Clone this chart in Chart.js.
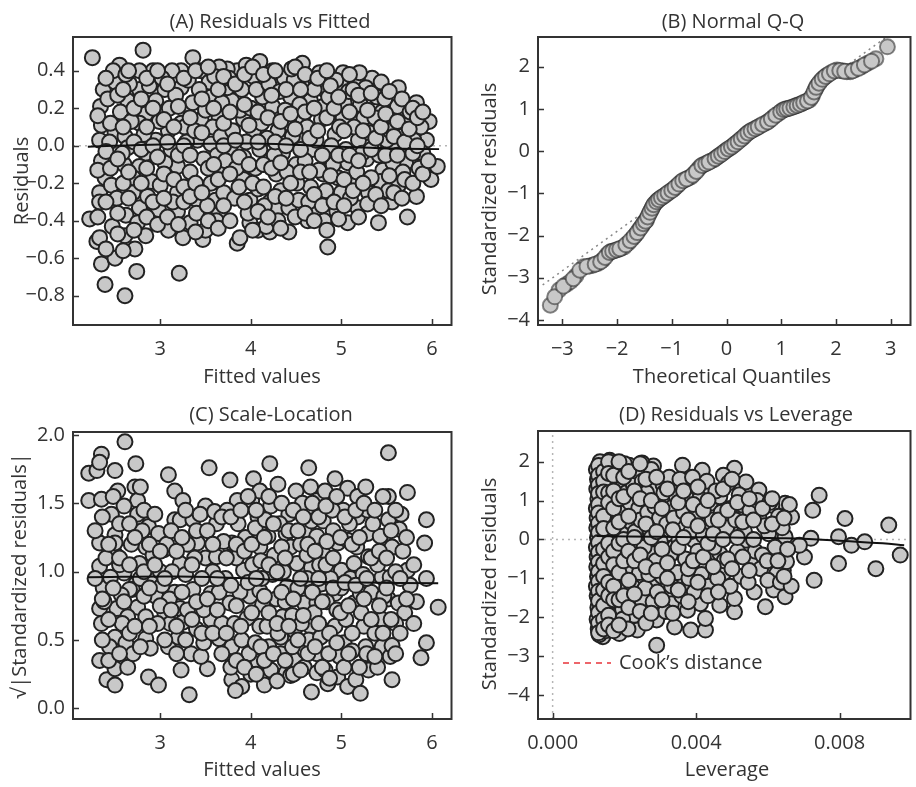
<!DOCTYPE html>
<html>
<head>
<meta charset="utf-8">
<script src="https://cdn.jsdelivr.net/npm/chart.js@4.4.1/dist/chart.umd.min.js"></script>
<style>
  html, body { margin: 0; padding: 0; background: #fff; }
  body { width: 916px; height: 787px; overflow: hidden; position: relative; }
  canvas { position: absolute; }
</style>
</head>
<body>
<canvas id="panelA" width="461" height="390" style="left:0;top:0"></canvas>
<canvas id="panelB" width="462" height="390" style="left:458px;top:0"></canvas>
<canvas id="panelC" width="461" height="397" style="left:0;top:390px"></canvas>
<canvas id="panelD" width="462" height="397" style="left:458px;top:390px"></canvas>
<script>
// (A) residuals vs fitted: [fitted, residual]
const residVsFitted = [
  [2.25,0.47],[2.81,0.51],[2.22,-0.39],[2.30,-0.51],[2.33,-0.49],[2.35,-0.63],[2.39,-0.74],[2.50,-0.60],[2.61,-0.80],[2.74,-0.67],
  [2.72,-0.55],[2.61,-0.48],[2.84,-0.48],[3.21,-0.68],[3.09,-0.45],[3.25,-0.49],[3.33,-0.41],[3.47,-0.50],[3.50,-0.45],[3.85,-0.52],
  [3.88,-0.49],[3.99,-0.41],[4.08,-0.45],[4.21,-0.46],[4.17,-0.43],[4.42,-0.46],[4.63,-0.40],[4.81,-0.40],[4.85,-0.54],[5.07,-0.41],
  [5.41,-0.41],[5.73,-0.38],[5.83,-0.27],[5.56,-0.30],[5.18,-0.33],[5.30,-0.25],[5.99,-0.18],[6.06,-0.11],[5.97,0.13],[5.83,0.23],
  [5.63,0.31],[5.94,0.03],[5.90,-0.04],[5.72,0.11],[5.34,0.36],[5.39,0.26],[5.16,0.36],[5.02,0.39],[5.00,0.32],[4.76,0.39],
  [4.81,0.30],[4.57,0.44],[4.57,0.32],[4.37,0.36],[4.44,0.26],[4.24,0.40],[4.10,0.45],[4.10,0.35],[4.03,0.37],[3.85,0.40],
  [3.74,0.41],[3.65,0.42],[3.36,0.47],[3.45,0.40],[3.23,0.40],[3.13,0.40],[2.92,0.40],[2.77,0.40],[2.55,0.43],[2.37,0.30],
  [2.34,0.21],[2.35,0.11],[2.33,0.03],[2.50,0.34],[2.50,0.07],[2.35,-0.08],[2.39,-0.17],[2.33,-0.25],[2.33,-0.30],[2.46,-0.21],
  [2.47,-0.43],[2.62,-0.37],[2.60,-0.10],[2.70,-0.25],[2.75,-0.41],[2.77,-0.33],[2.90,-0.19],[2.94,-0.34],[2.98,-0.34],[3.19,-0.25],
  [3.19,-0.35],[3.19,-0.11],[3.05,-0.09],[3.41,-0.29],[3.56,-0.20],[3.65,-0.36],[3.61,-0.29],[3.70,-0.15],[3.70,-0.25],[3.92,-0.18],
  [3.99,-0.29],[4.08,-0.23],[4.21,-0.30],[4.28,-0.34],[4.28,-0.15],[4.42,-0.33],[4.50,-0.10],[4.53,-0.29],[4.66,-0.22],[4.73,-0.33],
  [4.80,-0.15],[4.87,-0.27],[4.96,-0.17],[5.00,-0.25],[5.12,-0.20],[5.28,-0.07],[5.46,-0.13],[5.43,-0.19],[5.63,-0.21],[5.71,-0.09],
  [5.59,-0.01],[5.73,0.00],[5.59,0.14],[5.62,0.21],[5.45,0.18],[5.25,0.15],[5.19,0.03],[5.03,0.23],[5.02,0.15],[4.93,0.06],
  [4.80,0.21],[4.66,0.24],[4.57,0.15],[4.57,0.03],[4.42,0.12],[4.30,0.08],[4.24,0.21],[4.13,0.26],[4.03,0.08],[4.10,-0.02],
  [3.92,0.14],[3.88,0.19],[3.79,0.24],[3.74,0.31],[3.65,0.15],[3.56,0.26],[3.54,0.34],[3.45,0.14],[3.36,0.23],[3.23,0.31],
  [3.23,0.12],[3.09,0.08],[3.05,0.30],[2.95,0.24],[2.95,0.03],[2.84,0.17],[2.77,0.12],[2.77,0.30],[2.64,0.24],[2.61,0.05],
  [2.64,-0.01],[2.84,-0.04],[2.77,-0.11],[3.41,0.03],[3.56,0.01],[3.63,-0.05],[3.27,0.10],[3.77,-0.02],[3.92,-0.06],[4.21,-0.08],
  [4.35,-0.04],[4.68,-0.02],[4.85,-0.06],[5.07,-0.09],[5.36,-0.01],[5.50,0.03],[5.79,-0.04],[5.80,0.03],
  [2.42,0.25],[2.44,0.02],[2.56,0.18],[2.58,-0.04],[2.52,-0.28],[2.66,0.33],[2.68,0.13],[2.70,-0.17],[2.82,0.06],[2.86,-0.27],
  [2.88,0.32],[2.99,0.13],[3.00,-0.21],[3.02,0.36],[3.10,0.20],[3.12,-0.02],[3.14,-0.30],[3.17,0.27],[3.29,0.02],[3.31,0.35],
  [3.33,-0.14],[3.38,0.08],[3.40,-0.36],[3.43,0.30],[3.48,-0.07],[3.50,0.19],[3.52,-0.32],[3.58,0.10],[3.60,0.37],[3.67,0.05],
  [3.68,0.23],[3.72,-0.08],[3.76,0.36],[3.80,0.08],[3.82,-0.28],[3.84,-0.12],[3.90,0.30],[3.95,0.02],[3.97,-0.36],[4.00,0.20],
  [4.05,-0.12],[4.06,0.30],[4.12,0.12],[4.15,-0.32],[4.18,0.04],[4.20,0.33],[4.26,-0.05],[4.32,0.29],[4.33,-0.24],[4.38,0.19],
  [4.40,-0.14],[4.46,0.05],[4.48,0.35],[4.51,-0.20],[4.54,0.22],[4.60,-0.08],[4.62,0.10],[4.64,-0.30],[4.70,0.30],[4.72,0.03],
  [4.75,-0.13],[4.78,0.14],[4.83,-0.24],[4.86,0.26],[4.89,0.00],[4.91,-0.10],[4.94,0.35],[4.98,0.10],[5.05,-0.02],[5.08,0.29],
  [5.10,-0.28],[5.14,0.10],[5.17,-0.14],[5.21,0.22],[5.23,-0.04],[5.27,0.31],[5.31,0.07],[5.33,-0.17],[5.37,0.15],[5.42,-0.05],
  [5.48,0.25],[5.52,-0.24],[5.54,0.08],[5.57,-0.09],[5.66,0.05],[5.68,-0.14],[5.76,0.18],[5.86,-0.12],[5.88,0.10],[2.48,0.40],
  [2.62,0.38],[3.62,-0.40],[4.30,-0.40],[4.95,-0.35],[5.20,0.39],[4.45,0.41],[3.95,0.43],
  [2.31,0.16],[2.31,-0.13],[2.31,-0.38],[2.40,0.36],[2.40,-0.03],[2.40,-0.30],[2.40,-0.55],[2.45,0.12],[2.45,-0.12],[2.53,0.27],
  [2.53,-0.07],[2.53,-0.36],[2.53,-0.47],[2.59,0.30],[2.59,0.10],[2.59,-0.20],[2.59,-0.56],[2.65,0.40],[2.65,-0.14],[2.65,-0.28],
  [2.71,0.20],[2.71,0.02],[2.71,-0.45],[2.79,0.25],[2.79,-0.02],[2.79,-0.20],[2.85,0.36],[2.85,0.10],[2.85,-0.12],[2.85,-0.38],
  [2.92,0.20],[2.92,0.00],[2.92,-0.30],[2.97,0.40],[2.97,-0.06],[2.97,-0.42],[3.04,0.14],[3.04,-0.15],[3.04,-0.28],[3.08,0.33],
  [3.08,0.02],[3.08,-0.38],[3.15,0.10],[3.15,-0.18],[3.20,0.21],[3.20,-0.05],[3.20,-0.42],[3.26,0.36],[3.26,0.00],[3.26,-0.22],
  [3.26,-0.30],[3.33,0.15],[3.33,-0.05],[3.33,-0.27],[3.39,0.40],[3.39,-0.20],[3.39,-0.46],[3.46,0.25],[3.46,0.07],[3.46,-0.25],
  [3.53,0.42],[3.53,-0.12],[3.53,-0.40],[3.59,0.20],[3.59,-0.10],[3.64,0.30],[3.64,-0.18],[3.64,-0.44],[3.70,0.37],[3.70,0.12],
  [3.70,0.00],[3.70,-0.32],[3.77,0.18],[3.77,-0.15],[3.77,-0.40],[3.83,0.33],[3.83,0.03],[3.87,-0.06],[3.87,-0.22],[3.93,0.38],
  [3.93,0.22],[3.93,-0.30],[3.98,0.11],[3.98,-0.10],[4.02,0.42],[4.02,-0.20],[4.02,-0.45],[4.08,0.18],[4.08,0.02],[4.08,-0.35],
  [4.14,0.38],[4.14,-0.10],[4.14,-0.22],[4.19,0.15],[4.19,-0.38],[4.23,0.27],[4.23,-0.12],[4.27,0.40],[4.27,0.02],[4.27,-0.27],
  [4.33,0.13],[4.33,-0.09],[4.33,-0.44],[4.39,0.30],[4.39,0.00],[4.39,-0.28],[4.44,0.17],[4.44,-0.20],[4.49,0.42],[4.49,0.09],
  [4.49,-0.38],[4.55,0.30],[4.55,-0.02],[4.55,-0.14],[4.60,0.38],[4.60,0.18],[4.60,-0.36],[4.65,0.04],[4.65,-0.14],[4.70,0.20],
  [4.70,-0.26],[4.70,-0.40],[4.74,0.36],[4.74,0.08],[4.79,-0.05],[4.79,-0.32],[4.84,0.40],[4.84,0.15],[4.84,-0.45],[4.88,0.32],
  [4.88,-0.16],[4.92,0.20],[4.92,-0.30],[4.97,0.26],[4.97,-0.05],[4.97,-0.39],[5.03,0.08],[5.03,-0.18],[5.03,-0.32],[5.09,0.38],
  [5.09,0.18],[5.09,-0.05],[5.13,-0.24],[5.13,0.30],[5.19,0.27],[5.19,-0.08],[5.19,-0.38],[5.24,0.08],[5.24,-0.20],[5.29,0.19],
  [5.29,-0.31],[5.33,0.28],[5.33,-0.02],[5.38,0.04],[5.38,-0.26],[5.44,0.34],[5.44,0.10],[5.44,-0.32],[5.49,0.17],[5.49,-0.05],
  [5.53,0.29],[5.53,-0.16],[5.58,0.05],[5.58,-0.25],[5.62,0.13],[5.62,-0.05],[5.67,0.25],[5.67,-0.28],[5.70,0.02],[5.70,-0.18],
  [5.75,0.09],[5.79,0.20],[5.79,-0.20],[5.84,0.00],[5.84,0.15],[5.90,-0.15],[5.90,0.18],[5.96,-0.08]
];
const residSmooth = [[2.20,-0.005],[3.0,0.007],[4.0,0.012],[5.0,-0.005],[5.6,-0.015],[6.08,-0.018]];

// (B) normal Q-Q: [theoretical quantile, standardized residual]
const normalQQ = [
  [-3.22,-3.65],[-3.06,-3.29],[-2.92,-3.15],[-2.85,-3.09],[-2.75,-2.95],[-2.61,-2.74],[-2.50,-2.72],[-2.44,-2.70],[-2.35,-2.66],[-2.26,-2.58],
  [-2.18,-2.45],[-2.11,-2.38],[-2.05,-2.36],[-1.98,-2.33],[-1.92,-2.30],[-1.87,-2.27],[-1.80,-2.18],[-1.72,-2.07],[-1.66,-1.98],[-1.60,-1.87],
  [-1.55,-1.78],[-1.50,-1.68],[-1.46,-1.63],[-1.42,-1.50],[-1.38,-1.40],[-1.34,-1.30],[-1.31,-1.24],[-1.26,-1.17],[-1.21,-1.12],[-1.16,-1.08],
  [-1.10,-1.02],[-1.04,-0.96],[-0.97,-0.90],[-0.90,-0.82],[-0.83,-0.73],[-0.76,-0.68],[-0.70,-0.64],[-0.65,-0.61],[-0.58,-0.52],[-0.52,-0.43],
  [-0.48,-0.37],[-0.42,-0.32],[-0.35,-0.28],[-0.29,-0.24],[-0.24,-0.21],[-0.18,-0.15],[-0.12,-0.10],[-0.06,-0.04],[0.00,0.02],[0.06,0.07],
  [0.12,0.13],[0.18,0.19],[0.24,0.26],[0.30,0.32],[0.36,0.40],[0.42,0.46],[0.48,0.50],[0.55,0.55],[0.62,0.60],[0.71,0.66],
  [0.78,0.72],[0.86,0.81],[0.95,0.89],[1.02,0.96],[1.08,1.00],[1.13,1.01],[1.20,1.04],[1.26,1.07],[1.31,1.09],[1.38,1.13],
  [1.45,1.17],[1.52,1.21],[1.57,1.32],[1.62,1.46],[1.66,1.56],[1.72,1.66],[1.78,1.74],[1.84,1.80],[1.92,1.86],[2.02,1.92],
  [2.12,1.90],[2.20,1.88],[2.26,1.88],[2.35,1.93],[2.47,2.00],[2.58,2.08],[2.73,2.19],[2.94,2.47],
  [-3.14,-3.45],[-2.98,-3.20],[-2.80,-3.02],[-2.68,-2.82],[-2.55,-2.73],[-2.40,-2.68],[-2.30,-2.62],[-2.22,-2.52],[-2.14,-2.40],[-2.08,-2.37],
  [-2.01,-2.34],[-1.95,-2.31],[-1.84,-2.22],[-1.76,-2.12],[-1.69,-2.02],[-1.63,-1.93],[-1.57,-1.82],[-1.52,-1.72],[-1.48,-1.66],[-1.44,-1.56],
  [-1.40,-1.45],[-1.36,-1.35],[-1.33,-1.27],[-1.28,-1.20],[-1.24,-1.15],[-1.19,-1.10],[-1.13,-1.05],[-1.07,-0.99],[-1.00,-0.93],[-0.94,-0.86],
  [-0.87,-0.78],[-0.80,-0.70],[-0.73,-0.66],[-0.62,-0.57],[-0.55,-0.48],[-0.45,-0.34],[-0.38,-0.30],[-0.32,-0.26],[-0.21,-0.18],[-0.15,-0.12],
  [-0.09,-0.07],[-0.03,-0.01],[0.03,0.05],[0.09,0.10],[0.15,0.16],[0.21,0.22],[0.27,0.29],[0.33,0.36],[0.39,0.43],[0.45,0.48],
  [0.52,0.53],[0.58,0.57],[0.66,0.63],[0.75,0.69],[0.82,0.76],[0.90,0.85],[0.99,0.93],[1.05,0.98],[1.10,1.00],[1.16,1.02],
  [1.23,1.05],[1.29,1.08],[1.35,1.11],[1.41,1.15],[1.48,1.19],[1.55,1.27],[1.60,1.40],[1.64,1.51],[1.69,1.61],[1.75,1.70],
  [1.81,1.77],[1.88,1.83],[1.97,1.90],[2.07,1.91],[2.16,1.89],[2.30,1.90],[2.41,1.96],[2.52,2.04],[2.65,2.13]
];
const qqLine = [[-3.36,-3.17],[2.92,2.70]];

// (C) scale-location: [fitted, sqrt|standardized residual|]
const scaleLocation = [
  [2.21,1.72],[2.21,1.52],[2.30,1.74],[2.35,1.86],[2.33,1.80],[2.61,1.95],[2.50,1.74],[2.73,1.79],[2.53,1.59],[2.72,1.62],
  [2.75,1.52],[2.35,1.53],[2.46,1.42],[2.75,1.42],[2.87,1.33],[2.98,1.28],[2.33,1.21],[2.50,1.27],[2.50,1.13],[2.50,1.21],
  [2.33,1.04],[2.37,0.88],[2.33,0.73],[2.35,0.62],[2.52,0.73],[2.50,0.52],[2.44,0.45],[2.33,0.35],[2.41,0.21],[2.50,0.17],
  [2.50,0.29],[2.64,0.30],[2.62,0.48],[2.75,0.74],[2.73,0.91],[2.60,0.99],[2.84,0.51],[2.89,0.44],[2.87,0.23],[2.98,0.17],
  [3.09,0.45],[3.05,0.70],[3.11,0.62],[3.04,1.16],[3.09,1.71],[3.16,1.59],[3.25,1.52],[3.16,1.38],[3.22,1.38],[3.36,1.38],
  [3.22,1.06],[3.16,0.85],[3.22,0.73],[3.25,0.63],[3.20,0.52],[3.23,0.28],[3.34,0.40],[3.32,0.10],[3.36,0.87],[3.52,0.29],
  [3.45,0.38],[3.41,1.21],[3.50,1.10],[3.54,1.76],[3.50,1.48],[3.62,1.35],[3.62,1.11],[3.56,0.84],[3.65,0.85],[3.56,0.65],
  [3.65,0.51],[3.77,1.67],[3.79,1.21],[3.77,0.77],[3.79,0.45],[3.79,0.21],[3.85,1.52],[3.86,1.35],[3.92,1.01],[3.90,0.50],
  [3.90,0.16],[3.83,0.13],[3.99,0.82],[4.03,1.68],[4.01,1.52],[4.10,1.59],[4.08,1.40],[4.10,1.18],[4.10,0.86],[4.10,0.60],
  [4.08,0.34],[4.15,0.17],[4.21,1.79],[4.30,1.64],[4.22,1.48],[4.19,1.26],[4.24,0.98],[4.13,0.76],[4.22,0.28],[4.33,0.40],
  [4.33,0.52],[4.35,0.67],[4.39,1.28],[4.42,1.42],[4.40,0.89],[4.39,0.26],[4.50,1.59],[4.51,1.06],[4.48,0.57],[4.50,0.35],
  [4.57,1.50],[4.59,1.30],[4.59,0.77],[4.60,0.42],[4.59,0.30],[4.64,1.76],[4.66,1.62],[4.67,1.37],[4.67,1.03],[4.69,0.87],
  [4.66,0.60],[4.67,0.12],[4.73,1.52],[4.73,1.26],[4.73,0.77],[4.73,0.40],[4.73,0.26],[4.80,1.37],[4.82,1.59],[4.80,1.13],
  [4.78,0.91],[4.80,0.57],[4.85,0.18],[4.93,1.68],[4.91,1.30],[4.96,1.21],[4.93,0.84],[4.93,0.60],[4.98,0.38],[4.96,0.23],
  [5.02,1.45],[5.00,1.01],[5.03,0.48],[5.07,1.61],[5.07,1.23],[5.07,0.16],[5.03,0.30],[5.14,1.06],[5.14,0.77],[5.18,1.55],
  [5.18,1.40],[5.16,0.21],[5.21,0.11],[5.21,0.84],[5.25,0.60],[5.27,1.62],[5.29,1.45],[5.29,1.28],[5.30,1.11],[5.27,0.45],
  [5.30,0.28],[5.43,1.26],[5.45,0.96],[5.45,0.65],[5.45,0.45],[5.52,1.87],[5.52,1.55],[5.52,1.38],[5.56,1.18],[5.54,0.96],
  [5.52,0.80],[5.54,0.38],[5.56,0.21],[5.56,0.46],[5.63,0.77],[5.66,1.42],[5.64,1.31],[5.70,0.70],[5.73,1.58],[5.73,1.01],
  [5.83,0.78],[5.88,0.37],[5.94,1.38],[5.92,1.21],[5.94,0.95],[5.94,0.48],[6.07,0.74],[2.69,0.87],[2.77,1.06],[2.84,1.18],
  [2.91,0.96],[2.95,0.82],[2.82,0.82],[2.66,0.87],[2.64,0.67],[2.84,0.67],
  [2.40,1.10],[2.45,0.96],[2.55,1.05],[2.58,0.62],[2.68,1.20],[2.70,0.40],[2.80,1.30],[2.92,1.12],[2.97,0.62],[3.00,1.00],
  [3.02,0.90],[3.07,1.20],[3.10,0.80],[3.13,1.00],[3.28,0.98],[3.30,1.20],[3.30,0.72],[3.38,1.10],[3.40,0.58],[3.44,1.42],
  [3.48,0.72],[3.58,1.00],[3.60,1.44],[3.68,0.62],[3.70,1.22],[3.72,0.95],[3.74,1.45],[3.82,0.62],[3.84,1.10],[3.88,0.85],
  [3.94,1.25],[3.96,0.66],[3.98,0.40],[4.02,1.05],[4.05,1.32],[4.05,0.48],[4.12,0.95],[4.16,1.38],[4.18,0.60],[4.20,0.45],
  [4.26,1.12],[4.28,0.80],[4.30,0.55],[4.32,1.35],[4.36,1.00],[4.38,0.78],[4.44,1.18],[4.46,0.45],[4.46,0.68],[4.52,0.88],
  [4.55,1.20],[4.56,0.62],[4.62,0.95],[4.62,1.12],[4.64,0.50],[4.70,0.70],[4.76,1.05],[4.77,0.52],[4.84,1.22],[4.84,0.78],
  [4.86,0.40],[4.88,0.95],[4.90,1.45],[4.95,0.72],[5.00,0.88],[5.05,0.65],[5.09,1.35],[5.10,0.95],[5.12,0.42],[5.17,1.18],
  [5.22,0.70],[5.24,0.98],[5.33,0.85],[5.35,1.35],[5.37,0.55],[5.40,1.05],[5.47,0.82],[5.60,1.00],[5.60,0.62],[5.68,1.15],
  [5.76,0.90],[2.38,0.78],[2.57,0.83],[3.18,0.40],[3.48,0.48],[4.00,0.25],[4.44,0.24],[4.82,0.28],[5.40,0.30],
  [2.28,1.30],[2.28,0.95],[2.36,1.40],[2.36,0.50],[2.36,0.80],[2.43,1.20],[2.43,0.65],[2.43,0.35],[2.48,1.55],[2.48,0.88],
  [2.55,1.35],[2.55,0.40],[2.55,1.10],[2.60,0.78],[2.60,1.48],[2.66,1.05],[2.66,0.55],[2.66,1.35],[2.72,1.25],[2.72,0.60],
  [2.78,0.95],[2.78,1.62],[2.78,0.45],[2.82,1.00],[2.82,1.45],[2.88,0.88],[2.88,0.60],[2.88,1.20],[2.94,1.05],[2.94,1.42],
  [3.00,0.75],[3.00,1.15],[3.05,0.50],[3.05,0.95],[3.12,1.30],[3.12,0.72],[3.18,1.15],[3.18,0.60],[3.24,0.85],[3.24,1.25],
  [3.28,0.50],[3.28,1.45],[3.35,0.65],[3.35,1.05],[3.40,1.30],[3.40,0.78],[3.46,0.95],[3.46,0.55],[3.52,1.30],[3.52,0.80],
  [3.58,1.20],[3.58,0.55],[3.63,0.72],[3.63,0.95],[3.68,1.40],[3.68,0.40],[3.73,1.10],[3.73,0.55],[3.78,0.90],[3.78,1.40],
  [3.78,0.30],[3.84,0.75],[3.84,1.20],[3.84,0.35],[3.89,1.45],[3.89,0.60],[3.93,1.15],[3.93,0.30],[3.97,0.92],[3.97,1.55],
  [4.01,0.70],[4.01,1.20],[4.06,0.95],[4.06,0.25],[4.06,1.45],[4.11,1.08],[4.11,0.45],[4.15,0.82],[4.15,1.25],[4.15,0.35],
  [4.20,1.55],[4.20,0.70],[4.20,1.05],[4.25,0.40],[4.25,1.35],[4.29,0.62],[4.29,1.00],[4.29,0.20],[4.34,1.18],[4.34,0.85],
  [4.34,1.50],[4.38,0.35],[4.38,1.10],[4.42,0.60],[4.42,1.30],[4.47,0.80],[4.47,1.45],[4.47,0.25],[4.52,0.50],[4.52,1.30],
  [4.55,0.95],[4.55,0.28],[4.58,1.40],[4.58,0.68],[4.63,0.40],[4.63,1.20],[4.68,0.85],[4.68,1.50],[4.71,0.45],[4.71,1.15],
  [4.75,0.62],[4.75,1.40],[4.75,0.95],[4.79,0.30],[4.79,0.78],[4.83,1.05],[4.83,1.48],[4.87,0.55],[4.87,0.22],[4.91,0.88],
  [4.91,1.10],[4.95,1.55],[4.95,0.48],[4.99,0.70],[4.99,1.25],[5.04,0.92],[5.04,1.40],[5.08,0.40],[5.08,0.75],[5.12,1.20],
  [5.12,0.55],[5.16,1.45],[5.16,0.90],[5.20,0.30],[5.20,1.25],[5.25,0.80],[5.25,1.50],[5.28,0.95],[5.28,0.40],[5.33,1.10],
  [5.33,0.65],[5.37,1.45],[5.37,0.38],[5.42,0.75],[5.42,1.15],[5.46,1.55],[5.46,0.55],[5.50,0.88],[5.50,1.10],[5.55,0.65],
  [5.55,1.30],[5.60,1.45],[5.60,0.40],[5.65,0.95],[5.65,0.55],[5.72,1.25],[5.72,0.80],[5.80,1.05],[5.80,0.62]
];
const scaleSmooth = [[2.20,0.96],[3.2,0.965],[4.0,0.95],[4.5,0.93],[5.2,0.92],[6.07,0.915]];

// (D) residuals vs leverage: [leverage, standardized residual]
const residVsLeverage = [
  [0.00743,1.14],[0.00725,0.75],[0.00815,0.54],[0.00937,0.37],[0.00797,0.07],[0.00833,-0.15],[0.00870,-0.06],[0.00797,-0.62],[0.00901,-0.75],[0.00969,-0.40],
  [0.00729,-1.05],[0.00702,-0.45],[0.00720,0.03],[0.00688,-0.15],[0.00666,0.58],[0.00648,0.93],[0.00611,0.88],[0.00575,1.27],[0.00539,1.48],[0.00507,1.83],
  [0.00476,1.65],[0.00417,1.78],[0.00362,1.91],[0.00281,1.89],[0.00249,1.97],[0.00213,1.91],[0.00159,2.04],[0.00140,1.95],[0.00290,-2.72],[0.00290,-2.07],
  [0.00340,-2.25],[0.00385,-2.33],[0.00426,-2.33],[0.00426,-2.03],[0.00412,-1.65],[0.00466,-1.69],[0.00507,-1.86],[0.00507,-1.52],[0.00562,-1.35],[0.00593,-1.73],
  [0.00616,-1.30],[0.00648,-1.47],[0.00643,-0.79],[0.00652,-0.57],[0.00236,-2.33],[0.00227,-1.95],[0.00249,-1.56],[0.00236,-1.09],[0.00177,-1.65],[0.00154,-2.25],
  [0.00140,-2.50],[0.00186,-2.42],[0.00136,-1.99],[0.00159,-1.48],[0.00140,-1.13],[0.00172,-0.83],[0.00208,-1.47],[0.00331,-1.65],[0.00367,-1.13],[0.00376,-1.82],
  [0.00313,-0.70],[0.00276,-0.36],[0.00249,-0.62],[0.00322,0.15],[0.00285,0.41],[0.00335,0.84],[0.00376,0.80],[0.00394,1.27],[0.00439,1.27],[0.00439,0.93],
  [0.00426,0.37],[0.00426,-0.62],[0.00466,-0.36],[0.00476,-0.87],[0.00503,0.24],[0.00494,0.80],[0.00466,1.10],[0.00530,0.88],[0.00539,-0.02],[0.00557,-0.62],
  [0.00575,0.58],[0.00602,0.15],[0.00625,-0.87],[0.00611,-0.45],[0.00648,0.07],[0.00294,1.10],[0.00285,1.35],[0.00308,1.40],[0.00358,1.35],[0.00249,0.97],
  [0.00222,1.10],[0.00208,1.57],[0.00177,1.74],[0.00168,1.05],[0.00195,0.33],[0.00140,0.41],[0.00140,1.27],[0.00140,0.84],[0.00140,-0.10],[0.00140,-0.53],
  [0.00145,-1.56],[0.00249,0.15],[0.00213,-0.15],[0.00236,-0.10],[0.00340,-0.19],[0.00394,-0.02],[0.00367,0.41],[0.00276,-1.13],
  [0.00122,1.80],[0.00125,1.55],[0.00123,1.30],[0.00126,1.05],[0.00122,0.80],[0.00124,0.55],[0.00123,0.30],[0.00125,0.05],[0.00122,-0.20],[0.00124,-0.45],
  [0.00123,-0.70],[0.00125,-0.95],[0.00122,-1.20],[0.00124,-1.45],[0.00126,-1.75],[0.00124,-2.05],[0.00127,-2.30],[0.00130,-2.45],[0.00132,2.00],[0.00135,1.70],
  [0.00133,1.45],[0.00136,1.15],[0.00134,0.95],[0.00133,0.65],[0.00136,0.15],[0.00134,-0.30],[0.00135,-0.80],[0.00137,-1.35],[0.00134,-1.80],[0.00136,-2.20],
  [0.00148,1.85],[0.00150,1.60],[0.00152,1.35],[0.00148,1.10],[0.00150,0.70],[0.00153,0.50],[0.00150,0.25],[0.00148,0.00],[0.00152,-0.30],[0.00150,-0.70],
  [0.00152,-0.95],[0.00150,-1.25],[0.00150,-1.80],[0.00152,-2.05],[0.00148,-2.35],[0.00162,1.90],[0.00165,1.40],[0.00163,0.90],[0.00160,0.60],[0.00164,0.10],
  [0.00162,-0.20],[0.00165,-0.55],[0.00163,-1.05],[0.00165,-1.30],[0.00168,-1.95],[0.00170,-2.15],[0.00175,1.55],[0.00178,1.20],[0.00180,0.70],[0.00176,0.40],
  [0.00180,-0.05],[0.00178,-0.40],[0.00182,-1.10],[0.00180,-1.40],[0.00190,1.85],[0.00188,1.30],[0.00192,0.90],[0.00190,0.55],[0.00192,0.15],[0.00188,-0.25],
  [0.00192,-0.65],[0.00190,-1.25],[0.00195,-1.80],[0.00195,-2.05],[0.00200,1.95],[0.00205,1.20],[0.00203,0.70],[0.00202,-0.40],[0.00205,-0.95],[0.00210,-2.30],
  [0.00215,0.95],[0.00218,0.45],[0.00220,-0.70],[0.00222,-1.20],[0.00225,1.40],[0.00230,0.20],[0.00232,-0.40],[0.00235,1.75],[0.00240,0.80],[0.00242,-0.85],
  [0.00245,0.50],[0.00250,1.50],[0.00255,-0.20],[0.00258,-1.25],[0.00262,1.20],[0.00265,0.70],[0.00268,-0.90],[0.00272,0.20],[0.00275,1.80],[0.00280,-1.60],
  [0.00285,0.85],[0.00288,-0.55],[0.00292,-1.35],[0.00298,0.55],[0.00300,-0.05],[0.00305,-0.95],[0.00310,1.20],[0.00315,-1.85],[0.00318,0.40],[0.00325,1.60],
  [0.00328,-0.40],[0.00332,-1.20],[0.00338,0.55],[0.00345,1.10],[0.00348,-0.85],[0.00352,0.00],[0.00355,1.55],[0.00360,-1.45],[0.00365,0.70],[0.00370,-0.50],
  [0.00375,1.05],[0.00380,-1.00],[0.00385,0.20],[0.00390,1.60],[0.00395,-1.35],[0.00400,0.65],[0.00405,-0.30],[0.00410,1.05],[0.00415,-0.90],[0.00420,0.10],
  [0.00430,1.50],[0.00435,-1.20],[0.00445,0.50],[0.00450,-0.20],[0.00455,1.25],[0.00460,-1.00],[0.00470,0.70],[0.00478,-0.55],[0.00485,0.30],[0.00490,1.45],
  [0.00495,-1.20],[0.00510,0.50],[0.00515,-0.30],[0.00520,1.15],[0.00525,-0.95],[0.00535,0.20],[0.00545,-1.10],[0.00550,0.75],[0.00565,-0.30],[0.00570,1.00],
  [0.00580,-0.75],[0.00590,0.35],[0.00600,-1.05],[0.00605,0.95],[0.00620,-0.20],[0.00630,0.60],[0.00635,-1.10],[0.00640,0.30],[0.00655,-0.25],[0.00660,0.90],
  [0.00665,-1.20],
  [0.00128,1.90],[0.00128,1.65],[0.00128,1.40],[0.00128,1.18],[0.00128,0.90],[0.00128,0.68],[0.00128,0.42],[0.00128,0.18],[0.00128,-0.08],[0.00128,-0.33],
  [0.00128,-0.58],[0.00128,-0.83],[0.00128,-1.08],[0.00128,-1.33],[0.00128,-1.58],[0.00128,-1.88],[0.00128,-2.15],[0.00128,-2.40],[0.00142,1.75],[0.00142,1.50],
  [0.00142,1.22],[0.00142,0.60],[0.00142,0.28],[0.00142,-0.25],[0.00142,-0.62],[0.00142,-0.95],[0.00142,-1.30],[0.00142,-1.70],[0.00142,-2.05],[0.00142,-2.30],
  [0.00156,2.00],[0.00156,1.70],[0.00156,1.20],[0.00156,0.95],[0.00156,-0.10],[0.00156,-0.45],[0.00156,-1.10],[0.00156,-1.45],[0.00156,-1.95],[0.00156,-2.20],
  [0.00170,1.65],[0.00170,1.25],[0.00170,0.80],[0.00170,0.30],[0.00170,-0.30],[0.00170,-0.65],[0.00170,-1.20],[0.00170,-1.55],[0.00170,-2.35],[0.00185,2.00],
  [0.00185,1.05],[0.00185,0.45],[0.00185,-0.10],[0.00185,-0.85],[0.00185,-1.55],[0.00185,-2.20],[0.00198,1.60],[0.00198,1.10],[0.00198,0.00],[0.00198,-0.55],
  [0.00198,-1.45],[0.00212,1.75],[0.00212,0.60],[0.00212,-0.30],[0.00212,-1.05],[0.00212,-1.75],[0.00228,1.25],[0.00228,0.05],[0.00228,-0.55],[0.00228,-1.40],
  [0.00244,1.95],[0.00244,1.05],[0.00244,-0.40],[0.00244,-1.85],[0.00260,0.40],[0.00260,1.55],[0.00260,-0.70],[0.00260,-2.15],[0.00275,1.00],[0.00275,0.05],
  [0.00275,-1.90],[0.00290,1.60],[0.00290,0.20],[0.00290,-0.80],[0.00305,0.80],[0.00305,-0.25],[0.00305,-1.55],[0.00320,1.30],[0.00320,-0.60],[0.00320,-1.00],
  [0.00335,0.25],[0.00335,-1.90],[0.00350,0.95],[0.00350,-0.20],[0.00350,-1.30],[0.00365,1.25],[0.00365,0.05],[0.00378,0.50],[0.00378,-0.75],[0.00378,-1.60],
  [0.00392,0.90],[0.00392,-0.55],[0.00405,1.35],[0.00405,0.35],[0.00405,-1.10],[0.00420,0.75],[0.00420,-0.45],[0.00433,1.00],[0.00433,-0.10],[0.00433,-1.45],
  [0.00448,0.15],[0.00448,-0.70],[0.00462,0.50],[0.00462,-1.35],[0.00475,1.30],[0.00475,0.00],[0.00488,-0.50],[0.00488,0.75],[0.00500,1.55],[0.00500,-0.75],
  [0.00515,0.95],[0.00515,0.05],[0.00530,0.45],[0.00530,-0.45],[0.00548,1.05],[0.00548,-0.80],[0.00560,0.00],[0.00560,0.50],[0.00585,0.80],[0.00585,-0.40],
  [0.00598,-0.55],[0.00612,0.40],[0.00612,1.05],[0.00628,-0.55],[0.00645,0.55],[0.00645,-0.95]
];
const leverageSmooth = [[0.00122,0.09],[0.003,0.07],[0.005,0.05],[0.0065,0.03],[0.008,-0.03],[0.0092,-0.10],[0.0098,-0.15]];

// tick values
const fittedTicks = [3, 4, 5, 6];
const residTicks = [-0.8, -0.6, -0.4, -0.2, 0, 0.2, 0.4];
const quantileTicks = [-3, -2, -1, 0, 1, 2, 3];
const stdResidTicks = [-4, -3, -2, -1, 0, 1, 2];
const sqrtTicks = [0, 0.5, 1, 1.5, 2];
const leverageTicks = [0, 0.004, 0.008];

const FONT = "'Open Sans', sans-serif";
const INK = "#333";
const MINUS = "\u2212";
const fmt = d => v => Number(v).toFixed(d).replace("-", MINUS);
const xy = pairs => pairs.map(([x, y]) => ({ x, y }));

// box, inward tick marks, panel/axis titles and optional Cook's legend
const panelDeco = {
  id: "panelDeco",
  afterDraw(chart, args, o) {
    const { ctx, chartArea: a, scales } = chart;
    ctx.save();
    ctx.strokeStyle = INK;
    ctx.lineWidth = 2;
    ctx.strokeRect(a.left, a.top, a.right - a.left, a.bottom - a.top);
    ctx.lineWidth = 1.5;
    ctx.beginPath();
    scales.x.ticks.forEach(t => {
      const px = Math.round(scales.x.getPixelForValue(t.value)) + 0.5;
      ctx.moveTo(px, a.bottom); ctx.lineTo(px, a.bottom - 6);
    });
    scales.y.ticks.forEach(t => {
      const py = Math.round(scales.y.getPixelForValue(t.value)) + 0.5;
      ctx.moveTo(a.left, py); ctx.lineTo(a.left + 6, py);
    });
    ctx.stroke();

    ctx.fillStyle = INK;
    ctx.font = "20px " + FONT;
    ctx.textAlign = "center";
    ctx.textBaseline = "middle";
    ctx.fillText(o.title, o.titlePos[0], o.titlePos[1]);
    ctx.fillText(o.xTitle, o.xTitlePos[0], o.xTitlePos[1]);
    ctx.save();
    ctx.translate(o.yTitlePos[0], o.yTitlePos[1]);
    ctx.rotate(-Math.PI / 2);
    ctx.fillText(o.yTitle, 0, 0);
    ctx.restore();

    if (o.cooks) {
      const [lx, ly] = o.cooks;
      ctx.strokeStyle = "#e8333a";
      ctx.lineWidth = 1.5;
      ctx.setLineDash([6, 5]);
      ctx.beginPath();
      ctx.moveTo(lx, ly); ctx.lineTo(lx + 48, ly);
      ctx.stroke();
      ctx.setLineDash([]);
      ctx.textAlign = "left";
      ctx.fillText("Cook\u2019s distance", lx + 56, ly);
    }
    ctx.restore();
  }
};

function axis(min, max, ticks, format, fit, pad) {
  return {
    type: "linear",
    min, max,
    grid: { display: false, drawTicks: false },
    border: { display: false },
    afterBuildTicks: s => { s.ticks = ticks.map(v => ({ value: v })); },
    afterFit: fit,
    ticks: {
      callback: format,
      color: INK,
      autoSkip: false,
      maxRotation: 0,
      padding: pad,
      font: { family: FONT, size: 20 }
    }
  };
}

function pointSet(pairs, border) {
  return {
    data: xy(pairs),
    pointRadius: 7.5,
    pointBackgroundColor: "#c8c8c8",
    pointBorderColor: border,
    pointBorderWidth: 2,
    order: 1
  };
}

function lineSet(pairs, opts) {
  return Object.assign({
    data: xy(pairs),
    showLine: true,
    pointRadius: 0,
    borderColor: "#111",
    borderWidth: 2,
    tension: 0.4,
    order: 0
  }, opts);
}

const dotted = { borderColor: "#b5b5b5", borderWidth: 1.5, borderDash: [2, 4], tension: 0, order: 2 };

function panel(id, area, xs, ys, datasets, deco) {
  const canvas = document.getElementById(id);
  const W = canvas.width, H = canvas.height;
  return new Chart(canvas, {
    type: "scatter",
    data: { datasets },
    options: {
      responsive: false,
      animation: false,
      devicePixelRatio: 1,
      events: [],
      layout: { padding: { top: area.top, left: 0, bottom: 0, right: W - area.right } },
      plugins: { legend: { display: false }, tooltip: { enabled: false }, panelDeco: deco },
      scales: {
        x: axis(xs.min, xs.max, xs.ticks, xs.format, s => { s.height = H - area.bottom; }, 12),
        y: axis(ys.min, ys.max, ys.ticks, ys.format, s => { s.width = area.left; }, 8)
      }
    },
    plugins: [panelDeco]
  });
}

// (A)
panel("panelA", { left: 73, top: 37, right: 459, bottom: 325 },
  { min: 2.036, max: 6.217, ticks: fittedTicks, format: fmt(0) },
  { min: -0.956, max: 0.58, ticks: residTicks, format: fmt(1) },
  [
    lineSet([[2.036, 0], [6.217, 0]], dotted),
    pointSet(residVsFitted, "#222"),
    lineSet(residSmooth)
  ],
  { title: "(A) Residuals vs Fitted", titlePos: [270, 22],
    xTitle: "Fitted values", xTitlePos: [262, 377],
    yTitle: "Residuals", yTitlePos: [22, 181] });

// (B)
panel("panelB", { left: 80, top: 37, right: 462, bottom: 325 },
  { min: -3.445, max: 3.362, ticks: quantileTicks, format: fmt(0) },
  { min: -4.118, max: 2.703, ticks: stdResidTicks, format: fmt(0) },
  [
    lineSet(qqLine, Object.assign({}, dotted, { borderColor: "#888" })),
    pointSet(normalQQ, "rgba(40,40,40,0.55)")
  ],
  { title: "(B) Normal Q-Q", titlePos: [275, 22],
    xTitle: "Theoretical Quantiles", xTitlePos: [274, 377],
    yTitle: "Standardized residuals", yTitlePos: [32, 189] });

// (C)
panel("panelC", { left: 73, top: 42, right: 459, bottom: 329 },
  { min: 2.036, max: 6.217, ticks: fittedTicks, format: fmt(0) },
  { min: -0.078, max: 2.022, ticks: sqrtTicks, format: fmt(1) },
  [
    pointSet(scaleLocation, "#222"),
    lineSet(scaleSmooth)
  ],
  { title: "(C) Scale-Location", titlePos: [271, 25],
    xTitle: "Fitted values", xTitlePos: [262, 380],
    yTitle: "\u221A|Standardized residuals|", yTitlePos: [20, 186] });

// (D)
panel("panelD", { left: 80, top: 41, right: 462, bottom: 329 },
  { min: -0.000408, max: 0.009976, ticks: leverageTicks, format: fmt(3) },
  { min: -4.617, max: 2.79, ticks: stdResidTicks, format: fmt(0) },
  [
    lineSet([[0, -4.617], [0, 2.79]], dotted),
    lineSet([[-0.000408, 0], [0.009976, 0]], dotted),
    pointSet(residVsLeverage, "#222"),
    lineSet(leverageSmooth)
  ],
  { title: "(D) Residuals vs Leverage", titlePos: [278, 25],
    xTitle: "Leverage", xTitlePos: [269, 380],
    yTitle: "Standardized residuals", yTitlePos: [32, 194],
    cooks: [105, 273] });
</script>
</body>
</html>
